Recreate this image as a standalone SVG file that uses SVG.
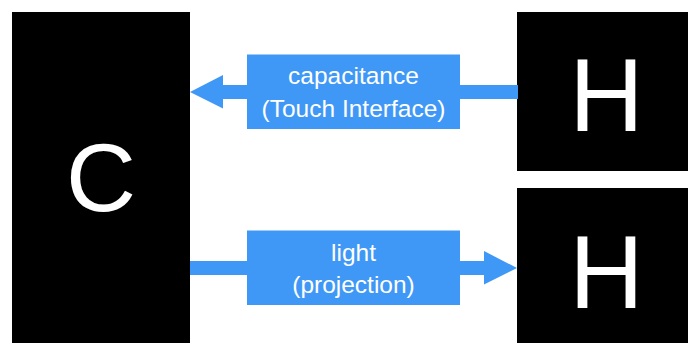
<svg xmlns="http://www.w3.org/2000/svg" width="688" height="343" viewBox="0 0 688 343">
<style>
.node{fill:#000;}
.big{fill:#fff;font-family:"Liberation Sans",Arial,sans-serif;text-anchor:middle;}
.arrow{fill:#3f98f6;}
.lbl{fill:#fff;font-family:"Liberation Sans",Arial,sans-serif;font-size:24.5px;text-anchor:middle;}
</style>
<rect width="688" height="343" fill="#fff"/>
<g id="node-C">
<rect class="node" x="12" y="12" width="178" height="340"/>
<text class="big" x="101" y="210.5" font-size="97">C</text>
</g>
<g id="node-H1">
<rect class="node" x="517" y="12" width="180" height="159"/>
<text class="big" x="606.5" y="131" font-size="103">H</text>
</g>
<g id="node-H2">
<rect class="node" x="517" y="188" width="180" height="165"/>
<text class="big" x="606.5" y="307.5" font-size="103">H</text>
</g>
<g id="connectors">
<g id="edge-capacitance">
<polygon class="arrow" points="518,85 223,85 223,75 190,92 223,108.5 223,99 518,99"/>
<rect class="arrow" x="247" y="54.5" width="213" height="74.5"/>
<text class="lbl" x="353.5" y="84">capacitance</text>
<text class="lbl" x="353.5" y="116.5">(Touch Interface)</text>
</g>
<g id="edge-light">
<polygon class="arrow" points="190,261 484,261 484,251 517,268 484,284.5 484,275 190,275"/>
<rect class="arrow" x="247" y="230.5" width="213" height="74.5"/>
<text class="lbl" x="353.5" y="261">light</text>
<text class="lbl" x="353.5" y="293">(projection)</text>
</g>
</g>
</svg>
